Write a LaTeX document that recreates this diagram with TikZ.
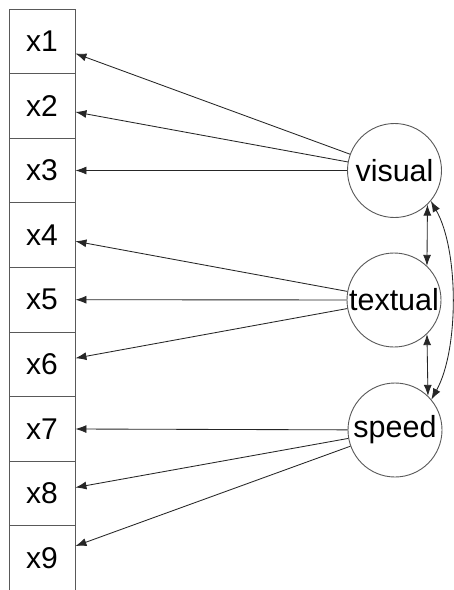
\documentclass[tikz,border=0pt]{standalone}
\usepackage{fontspec}
\setmainfont{Liberation Sans}
\usetikzlibrary{arrows.meta}
\tikzset{
  obs/.style={draw=black!65, line width=0.9pt, rectangle, minimum width=66pt, minimum height=64.6pt, inner sep=0pt, font=\fontsize{30}{31}\selectfont},
  lat/.style={draw=black!65, line width=0.9pt, circle, minimum size=94pt, inner sep=0pt, font=\fontsize{30.5}{31}\selectfont},
  tip/.style={Latex[length=11pt,width=8pt]},
  arr/.style={draw=black!85, line width=0.85pt, -{Latex[length=11pt,width=8pt]}},
  arrb/.style={draw=black!85, line width=0.85pt, {Latex[length=11pt,width=8pt]}-{Latex[length=11pt,width=8pt]}}
}
\begin{document}
\begin{tikzpicture}[x=1pt,y=-1pt]
\clip (0,0) rectangle (454,590);
\fill[white] (0,0) rectangle (454,590);
\foreach \i in {1,...,9} {
  \node[obs] (x\i) at (42, {9+64.6*(\i-0.5)}) {x\i};
}
\node[lat] (visual) at (394.5,170.5) {\makebox[0pt]{visual}};
\node[lat] (textual) at (394,300) {\makebox[0pt]{textual}};
\node[lat] (speed) at (395,430) {\makebox[0pt]{speed}};
\draw[arr] (visual) -- (x1);
\draw[arr] (visual) -- (x2);
\draw[arr] (visual) -- (x3);
\draw[arr] (textual) -- (x4);
\draw[arr] (textual) -- (x5);
\draw[arr] (textual) -- (x6);
\draw[arr] (speed) -- (x7);
\draw[arr] (speed) -- (x8);
\draw[arr] (speed) -- (x9);
\draw[arrb] (visual.-46) -- (textual.46);
\draw[arrb] (textual.-46) -- (speed.46);
\draw[arrb] (visual.-40) .. controls (459,250) and (459,350) .. (speed.40);
\end{tikzpicture}
\end{document}
